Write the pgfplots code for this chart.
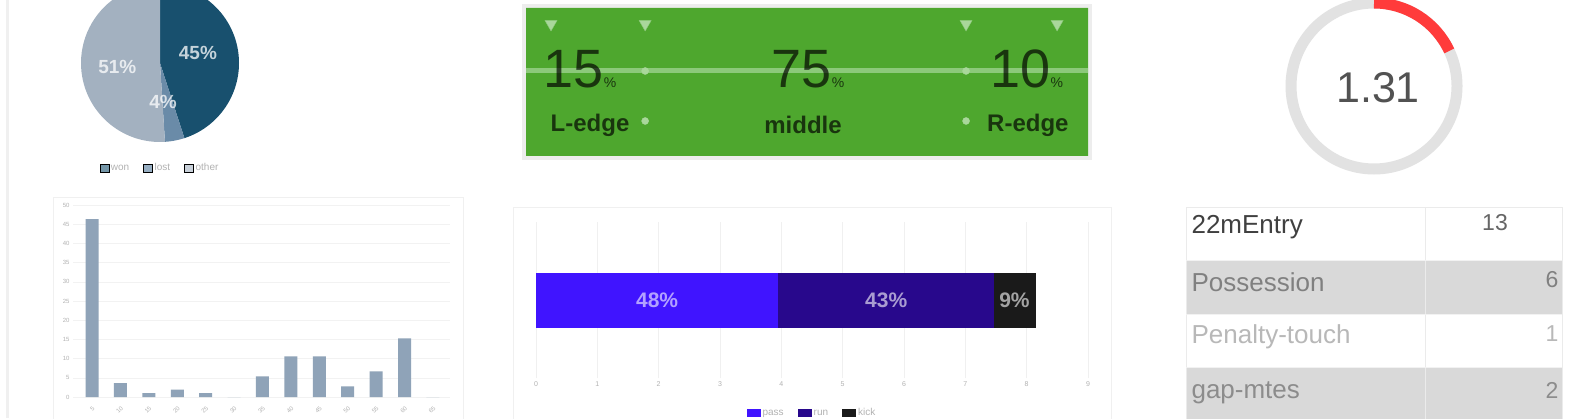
\documentclass[border=0pt]{standalone}
\usepackage{fontspec}
\setmainfont{Liberation Sans}
\usepackage{pgfplots}
\pgfplotsset{compat=1.18}
\definecolor{pieA}{HTML}{18506E}
\definecolor{pieB}{HTML}{6A8BA8}
\definecolor{pieC}{HTML}{A3B1C0}
\definecolor{field}{HTML}{4EA72E}
\definecolor{fieldline}{HTML}{8CC97A}
\definecolor{fielddot}{HTML}{A9D79B}
\definecolor{barc}{HTML}{8FA3B8}
\definecolor{sA}{HTML}{4014FF}
\definecolor{sB}{HTML}{28088C}
\definecolor{sC}{HTML}{1A1A1A}
\definecolor{ring}{HTML}{E2E2E2}
\definecolor{gred}{HTML}{FF3B3B}
\definecolor{rowgrey}{HTML}{D9D9D9}
\definecolor{panel}{HTML}{F0F0F0}
\begin{document}
\begin{tikzpicture}[x=1pt,y=1pt]
\fill[white] (0,0) rectangle (1594,418);
\path[use as bounding box] (0,0) rectangle (1594,418);
% faint page edge and panel frames
\fill[panel] (6,0) rectangle (9,418);
\draw[panel, line width=1pt] (53,-2) rectangle (463,220);
\draw[panel, line width=1pt] (513,-2) rectangle (1111,210);
% ---------------- pie ----------------
\begin{axis}[at={(81pt,276pt)}, anchor=south west, width=158pt, height=158pt,
  scale only axis, xmin=-1, xmax=1, ymin=-1, ymax=1, hide axis, clip=false,
  legend columns=3,
  legend style={at={(0.5,-0.165)}, anchor=center, draw=none, fill=none,
    font=\fontsize{10}{10}\selectfont, text=black!30,
    /tikz/every even column/.append style={column sep=12pt}},
  legend image code/.code={\fill[#1] (0pt,-4pt) rectangle (9pt,4pt);}]
\fill[pieA] (axis cs:0,0) -- (axis cs:0,1) arc[start angle=90, end angle=-72, radius=79pt] -- cycle;
\fill[pieB] (axis cs:0,0) -- ++(-72:79pt) arc[start angle=-72, end angle=-86.4, radius=79pt] -- cycle;
\fill[pieC] (axis cs:0,0) -- ++(-86.4:79pt) arc[start angle=-86.4, end angle=-270, radius=79pt] -- cycle;
\node[font=\bfseries\fontsize{19}{19}\selectfont, text=white, opacity=0.75] at (axis cs:0.48,0.13) {45\%};
\node[font=\bfseries\fontsize{19}{19}\selectfont, text=white, opacity=0.75] at (axis cs:-0.54,-0.05) {51\%};
\node[font=\bfseries\fontsize{19}{19}\selectfont, text=white, opacity=0.75] at (axis cs:0.04,-0.49) {4\%};
\addlegendimage{fill=pieA!60}\addlegendentry{won}
\addlegendimage{fill=pieB!70}\addlegendentry{lost}
\addlegendimage{fill=pieC!60}\addlegendentry{other}
\end{axis}
% ---------------- field ----------------
\fill[black!7] (522,258) rectangle (1092,414);
\begin{axis}[at={(526pt,262pt)}, anchor=south west, width=562pt, height=148pt,
  scale only axis, xmin=0, xmax=100, ymin=0, ymax=148, hide axis, clip=false]
\addplot[fill=field, draw=none] coordinates {(0,0) (100,0) (100,148) (0,148)} \closedcycle;
\addplot[color=fieldline, line width=5pt] coordinates {(0,85) (100,85)};
\addplot[color=fieldline, only marks, mark=triangle*, mark size=7pt, mark options={rotate=180, fill=fielddot, draw=none}]
  coordinates {(4.45,132) (21.2,132) (78.3,132) (94.5,132)};
\addplot[color=fielddot, only marks, mark=*, mark size=3.5pt, mark options={fill=fielddot, draw=none}]
  coordinates {(21.2,85) (78.3,85) (21.2,35) (78.3,35)};
\node[text=black, opacity=0.68, anchor=base] at (axis cs:9.6,68) {\fontsize{54}{54}\selectfont 15\fontsize{14}{14}\selectfont\%};
\node[text=black, opacity=0.68, anchor=base] at (axis cs:50.2,68) {\fontsize{54}{54}\selectfont 75\fontsize{14}{14}\selectfont\%};
\node[text=black, opacity=0.68, anchor=base] at (axis cs:89.1,68) {\fontsize{54}{54}\selectfont 10\fontsize{14}{14}\selectfont\%};
\node[font=\bfseries\fontsize{24}{24}\selectfont, text=black, opacity=0.68] at (axis cs:11.4,31) {L-edge};
\node[font=\bfseries\fontsize{24}{24}\selectfont, text=black, opacity=0.68] at (axis cs:49.3,31) {middle};
\node[font=\bfseries\fontsize{24}{24}\selectfont, text=black, opacity=0.68] at (axis cs:89.3,31) {R-edge};
\end{axis}
% ---------------- gauge ----------------
\begin{axis}[at={(1274pt,232pt)}, anchor=south west, width=200pt, height=200pt,
  scale only axis, xmin=-1, xmax=1, ymin=-1, ymax=1, hide axis, clip=false]
\draw[ring, line width=11pt] (axis cs:0,0) circle[radius=83pt];
\draw[gred, line width=11pt] (axis cs:0,0.83) arc[start angle=90, end angle=25, radius=83pt];
\node[font=\fontsize{43}{43}\selectfont, text=black!68] at (axis cs:0.04,-0.02) {1.31};
\end{axis}
% ---------------- histogram ----------------
\begin{axis}[at={(73pt,21pt)}, anchor=south west, width=377pt, height=192pt,
  scale only axis, ybar, bar width=13pt, xmin=-0.67, xmax=12.6, ymin=0, ymax=50,
  ytick={0,5,...,50}, xtick={0,...,12},
  xticklabels={5,10,15,20,25,30,35,40,45,50,55,60,65},
  x tick label style={rotate=45, anchor=north east, font=\fontsize{6}{6}\selectfont, text=black!30},
  y tick label style={font=\fontsize{6}{6}\selectfont, text=black!30},
  ymajorgrids, grid style={black!5}, axis line style={draw=none}, tick style={draw=none},
  /pgf/number format/assume math mode=true]
\addplot[fill=barc, draw=none] coordinates {(0,46.3) (1,3.6) (2,1.0) (3,1.9) (4,1.0) (5,0) (6,5.4) (7,10.6) (8,10.6) (9,2.8) (10,6.7) (11,15.3) (12,0)};
\end{axis}
% ---------------- stacked bar ----------------
\begin{axis}[at={(536pt,40pt)}, anchor=south west, width=552pt, height=156pt,
  scale only axis, xbar stacked, bar width=55pt, xmin=0, xmax=9, ymin=-1, ymax=1,
  ytick=\empty, xtick={0,...,9}, xmajorgrids, grid style={black!6},
  axis line style={draw=none}, tick style={draw=none},
  x tick label style={font=\fontsize{7}{7}\selectfont, text=black!30},
  /pgf/number format/assume math mode=true,
  legend columns=3,
  legend style={at={(0.5,-0.225)}, anchor=center, draw=none, fill=none,
    font=\fontsize{10}{10}\selectfont, text=black!30,
    /tikz/every even column/.append style={column sep=12pt}},
  legend image code/.code={\fill[#1] (0pt,-4pt) rectangle (14pt,4pt);},
  after end axis/.code={
    \node[font=\bfseries\fontsize{21}{21}\selectfont, text=white, opacity=0.6] at (rel axis cs:0.2194,0.5) {48\%};
    \node[font=\bfseries\fontsize{21}{21}\selectfont, text=white, opacity=0.6] at (rel axis cs:0.6344,0.5) {43\%};
    \node[font=\bfseries\fontsize{21}{21}\selectfont, text=white, opacity=0.6] at (rel axis cs:0.8667,0.5) {9\%};
  }]
\addplot[fill=sA, draw=none] coordinates {(3.95,0)};
\addplot[fill=sB, draw=none] coordinates {(3.52,0)};
\addplot[fill=sC, draw=none] coordinates {(0.69,0)};
\legend{pass,run,kick}
\end{axis}
% ---------------- table ----------------
\fill[rowgrey] (1186,104) rectangle (1562,158);
\fill[rowgrey] (1186,-2) rectangle (1562,51);
\draw[black!8, line width=1pt] (1186,-2) -- (1186,210) -- (1562,210) -- (1562,-2);
\draw[black!8, line width=1pt] (1425,-2) -- (1425,210);
\draw[black!5, line width=1pt] (1186,158) -- (1562,158) (1186,104) -- (1562,104) (1186,51) -- (1562,51);
\node[anchor=west, font=\fontsize{26}{26}\selectfont, text=black!75] at (1188,191) {22mEntry};
\node[anchor=west, font=\fontsize{26}{26}\selectfont, text=black!50] at (1188,136) {Possession};
\node[anchor=west, font=\fontsize{26}{26}\selectfont, text=black!28] at (1188,81) {Penalty-touch};
\node[anchor=west, font=\fontsize{26}{26}\selectfont, text=black!45] at (1188,25) {gap-mtes};
\node[font=\fontsize{23}{23}\selectfont, text=black!60] at (1495,195) {13};
\node[anchor=east, font=\fontsize{23}{23}\selectfont, text=black!50] at (1562,138) {6};
\node[anchor=east, font=\fontsize{23}{23}\selectfont, text=black!28] at (1562,84) {1};
\node[anchor=east, font=\fontsize{23}{23}\selectfont, text=black!45] at (1562,28) {2};
\end{tikzpicture}
\end{document}
